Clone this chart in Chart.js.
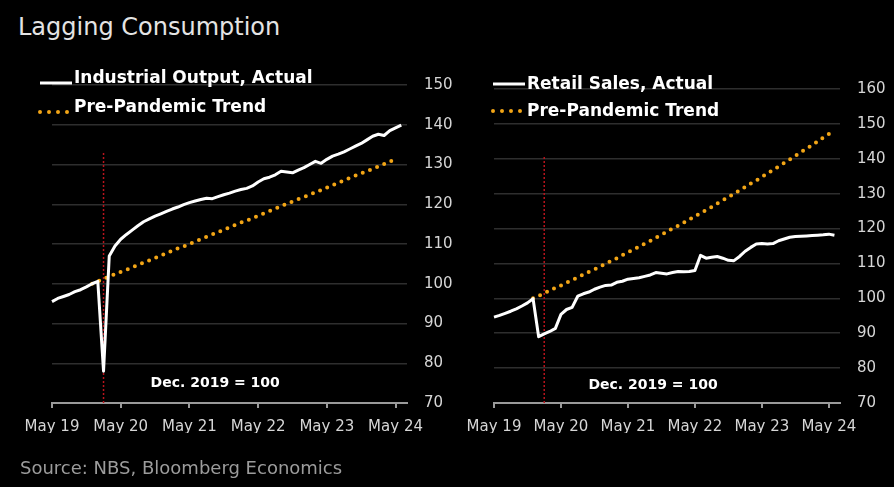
<!DOCTYPE html>
<html>
<head>
<meta charset="utf-8">
<script src="https://cdn.jsdelivr.net/npm/chart.js@4.4.1/dist/chart.umd.min.js"></script>
<style>
  body {
    margin: 0;
    width: 894px;
    height: 487px;
    background: #000;
    overflow: hidden;
    position: relative;
    font-family: 'DejaVu Sans', sans-serif;
  }
  .title {
    position: absolute;
    left: 18px;
    top: 13px;
    font-size: 24px;
    color: #e4e4e4;
    white-space: nowrap;
  }
  .source {
    position: absolute;
    left: 20px;
    top: 457px;
    font-size: 18px;
    color: #9c9c9c;
    white-space: nowrap;
  }
  canvas {
    position: absolute;
    top: 0;
  }
</style>
</head>
<body>
<div class="title">Lagging Consumption</div>
<canvas id="industry" width="460" height="487" style="left:0"></canvas>
<canvas id="retail" width="447" height="487" style="left:447px"></canvas>
<div class="source">Source: NBS, Bloomberg Economics</div>

<script>
// months from May 2019 to Jul 2024 (last one only stretches the axis)
const monthNames = ['Jan', 'Feb', 'Mar', 'Apr', 'May', 'Jun', 'Jul', 'Aug', 'Sep', 'Oct', 'Nov', 'Dec'];
const months = [];
for (let i = 0; i < 63; i++) {
  months.push(monthNames[(4 + i) % 12] + ' ' + (19 + Math.floor((4 + i) / 12)));
}
const tickLabels = ['May 19', 'May 20', 'May 21', 'May 22', 'May 23', 'May 24'];

// Dec. 2019 = 100
const industrialActual = [
  95.5, 96.3, 96.8, 97.3, 98.0, 98.5, 99.2, 100.0,
  100.6, 78.0, 107.0, 109.5, 111.2, 112.4, 113.5, 114.6,
  115.6, 116.3, 117.0, 117.6, 118.2, 118.8, 119.3, 119.9,
  120.4, 120.8, 121.2, 121.5, 121.4, 121.9, 122.4, 122.8,
  123.3, 123.7, 124.0, 124.6, 125.6, 126.4, 126.8, 127.4,
  128.3, 128.1, 127.9, 128.6, 129.2, 130.0, 130.8, 130.3,
  131.3, 132.1, 132.6, 133.2, 133.9, 134.6, 135.3, 136.2,
  137.1, 137.6, 137.3, 138.5, 139.2, 139.9
];
const industrialTrend = [
  null, null, null, null, null, null, null,
  100.0, 100.6, 101.2, 101.8, 102.4, 103.0, 103.5, 104.1, 104.7, 105.3,
  105.9, 106.5, 107.1, 107.7, 108.3, 108.9, 109.4, 110.0, 110.6, 111.2,
  111.8, 112.4, 113.0, 113.6, 114.2, 114.8, 115.4, 115.9, 116.5, 117.1,
  117.7, 118.3, 118.9, 119.5, 120.1, 120.7, 121.3, 121.8, 122.4, 123.0,
  123.6, 124.2, 124.8, 125.4, 126.0, 126.6, 127.2, 127.8, 128.3, 128.9,
  129.5, 130.1, 130.7, 131.3
];
const retailActual = [
  94.6, 95.1, 95.7, 96.3, 97.0, 97.8, 98.7, 99.9,
  89.0, 89.8, 90.5, 91.4, 95.4, 96.8, 97.4, 100.6,
  101.3, 101.8, 102.6, 103.2, 103.7, 103.8, 104.6, 104.9,
  105.5, 105.7, 105.9, 106.3, 106.7, 107.4, 107.2, 107.0,
  107.4, 107.7, 107.6, 107.7, 108.0, 112.3, 111.5, 111.8,
  112.0, 111.5, 110.9, 110.8, 112.0, 113.5, 114.6, 115.6,
  115.7, 115.6, 115.7, 116.5, 117.0, 117.5, 117.7, 117.8,
  117.9, 118.0, 118.1, 118.2, 118.4, 118.1
];
const retailTrend = [
  null, null, null, null, null, null, null,
  100.0, 100.7, 101.5, 102.2, 103.0, 103.7, 104.5, 105.2, 106.0, 106.8,
  107.6, 108.3, 109.1, 109.9, 110.7, 111.5, 112.4, 113.2, 114.0, 114.8,
  115.7, 116.5, 117.4, 118.2, 119.1, 120.0, 120.8, 121.7, 122.6, 123.5,
  124.4, 125.3, 126.2, 127.2, 128.1, 129.0, 130.0, 130.9, 131.9, 132.9,
  133.8, 134.8, 135.8, 136.8, 137.8, 138.8, 139.8, 140.8, 141.9, 142.9,
  143.9, 145.0, 146.1, 147.1, 148.2
];

const shockMonth = 'Feb 20';
const noteText = 'Dec. 2019 = 100';

const font = "'DejaVu Sans', sans-serif";

// legend drawn inside the plot, line sample + bold label
const lineLegend = {
  id: 'lineLegend',
  afterDraw(chart, args, opts) {
    const { ctx } = chart;
    ctx.save();
    ctx.font = 'bold 17px ' + font;
    ctx.textBaseline = 'alphabetic';
    let row = 0;
    chart.data.datasets.forEach(ds => {
      if (!ds.label) return;
      const y = opts.y + row * opts.gap;
      ctx.strokeStyle = ds.borderColor;
      ctx.lineWidth = ds.borderWidth;
      ctx.lineCap = ds.borderCapStyle || 'butt';
      ctx.setLineDash(ds.legendDash || []);
      ctx.beginPath();
      ctx.moveTo(opts.x, y);
      ctx.lineTo(opts.x + 32, y);
      ctx.stroke();
      ctx.setLineDash([]);
      ctx.fillStyle = '#ffffff';
      ctx.fillText(ds.label, opts.x + 34, y + opts.dy);
      row++;
    });
    ctx.restore();
  }
};

const note = {
  id: 'note',
  afterDatasetsDraw(chart, args, opts) {
    const { ctx, scales: { x, y } } = chart;
    ctx.save();
    ctx.font = 'bold 14px ' + font;
    ctx.fillStyle = '#ffffff';
    ctx.textAlign = 'center';
    ctx.textBaseline = 'middle';
    ctx.fillText(opts.text, x.getPixelForValue(opts.index), y.getPixelForValue(opts.value));
    ctx.restore();
  }
};

const makeChart = (id, cfg) => {
  const ctx = document.getElementById(id).getContext('2d');
  return new Chart(ctx, {
    type: 'line',
    data: {
      labels: months,
      datasets: [
        {
          label: cfg.actualLabel,
          data: cfg.actual,
          borderColor: '#ffffff',
          borderWidth: 3,
          borderJoinStyle: 'round',
          pointRadius: 0,
          tension: 0
        },
        {
          label: 'Pre-Pandemic Trend',
          data: cfg.trend,
          borderColor: '#f2a516',
          borderWidth: 4,
          borderDash: [0, 7.7],
          legendDash: [0, 9],
          borderCapStyle: 'round',
          pointRadius: 0,
          tension: 0
        },
        {
          data: [{ x: shockMonth, y: cfg.yMin }, { x: shockMonth, y: cfg.shockTop }],
          borderColor: '#b8141c',
          borderWidth: 1.5,
          borderDash: [2, 2],
          pointRadius: 0
        }
      ]
    },
    options: {
      responsive: false,
      animation: false,
      layout: { padding: cfg.padding },
      plugins: {
        legend: { display: false },
        title: { display: false },
        tooltip: { enabled: false },
        lineLegend: cfg.legend,
        note: { text: noteText, index: 28.5, value: 75 }
      },
      scales: {
        x: {
          type: 'category',
          border: { display: true, color: '#9a9a9a', width: 2 },
          grid: {
            drawOnChartArea: false,
            drawTicks: true,
            tickLength: 5,
            color: '#9a9a9a',
            lineWidth: 2
          },
          ticks: {
            autoSkip: false,
            maxRotation: 0,
            padding: 10,
            color: '#d6d6d6',
            font: { family: font, size: 15 },
            callback: function (value) {
              const lbl = months[value];
              return tickLabels.includes(lbl) ? lbl : null;
            }
          },
          afterFit: s => { s.height = 30; }
        },
        y: {
          position: 'right',
          min: cfg.yMin,
          max: cfg.yMax,
          border: { display: false },
          grid: { color: '#2e2e2e', lineWidth: 1.5, drawTicks: false },
          ticks: {
            stepSize: 10,
            padding: 17,
            color: '#d6d6d6',
            font: { family: font, size: 15 }
          },
          afterFit: s => { s.width = 50; }
        }
      }
    },
    plugins: [lineLegend, note]
  });
};

makeChart('industry', {
  actual: industrialActual,
  trend: industrialTrend,
  actualLabel: 'Industrial Output, Actual',
  yMin: 70,
  yMax: 150,
  shockTop: 133,
  padding: { left: 52, right: 3, top: 85, bottom: 54 },
  legend: { x: 40, y: 83, gap: 29, dy: 0 }
});

makeChart('retail', {
  actual: retailActual,
  trend: retailTrend,
  actualLabel: 'Retail Sales, Actual',
  yMin: 70,
  yMax: 160,
  shockTop: 140.5,
  padding: { left: 47, right: 4, top: 89, bottom: 54 },
  legend: { x: 46, y: 84, gap: 27, dy: 5 }
});
</script>
</body>
</html>
